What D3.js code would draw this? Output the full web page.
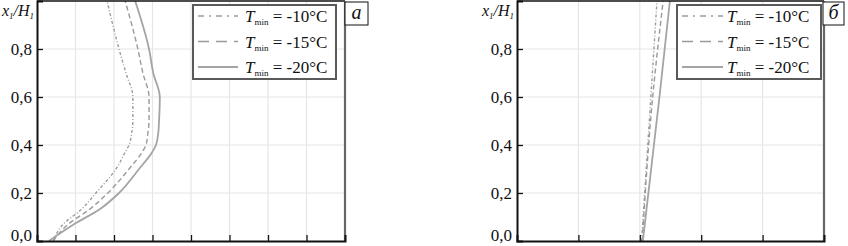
<!DOCTYPE html>
<html>
<head>
<meta charset="utf-8">
<style>
    body { margin: 0; background: #fff; }
    svg { display: block; }
    text { font-family: "Liberation Serif", Tinos, "DejaVu Serif", serif; fill: #111; }
    .grid line { stroke: #e6e6e6; stroke-width: 1.2; }
    .curve { fill: none; }
</style>
</head>
<body>
<div id="target"></div>
<script src="https://cdnjs.cloudflare.com/ajax/libs/d3/7.8.5/d3.min.js"></script>
<script>
    // shared y ticks
    var yTicks = [0, 0.2, 0.4, 0.6, 0.8];
    var yTickLabels = ['0,0', '0,2', '0,4', '0,6', '0,8'];

    // panel а
    var yA = [0, 0.07, 0.13, 0.2, 0.3, 0.37, 0.4, 0.45, 0.5, 0.6, 0.7, 0.8, 1.0];
    var xA10 = [0.42, 0.68, 1.14, 1.53, 2.05, 2.29, 2.39, 2.46, 2.49, 2.49, 2.31, 2.13, 1.82];
    var xA15 = [0.42, 0.81, 1.35, 1.84, 2.39, 2.73, 2.83, 2.88, 2.91, 2.91, 2.75, 2.62, 2.29];
    var xA20 = [0.31, 0.96, 1.61, 2.13, 2.65, 2.99, 3.09, 3.15, 3.17, 3.19, 3.02, 2.91, 2.55];
    var xTicksA = [0, 1, 2, 3, 4, 5, 6, 7, 8];

    // panel б
    var yB = [0, 0.6, 1.0];
    var xB10 = [2.03, 2.18, 2.28];
    var xB15 = [2.04, 2.21, 2.38];
    var xB20 = [2.05, 2.32, 2.49];
    var xTicksB = [0, 1, 2, 3, 4, 5];

    var seriesNames = ['-10°C', '-15°C', '-20°C'];
    var dashes = ['3,2,1,2', '5,3', null];
    var colors = ['#9c9c9c', '#9a9a9a', '#a4a4a4'];
    var widths = [1.4, 1.4, 1.8];

    var W = 848, H = 246;
    var svg = d3.select('#target').append('svg')
        .attr('width', W).attr('height', H);

    function panel(opt) {
        var x = d3.scaleLinear().domain([opt.xTicks[0], opt.xTicks[opt.xTicks.length - 1]])
            .range([opt.left, opt.right]);
        var y = d3.scaleLinear().domain([0, 1]).range([241, 1]);
        var g = svg.append('g');

        //grid
        var grid = g.append('g').attr('class', 'grid');
        grid.selectAll('line.v').data(opt.xTicks.slice(1, -1)).enter().append('line')
            .attr('x1', x).attr('x2', x).attr('y1', y(1)).attr('y2', y(0));
        grid.selectAll('line.h').data(yTicks.slice(1)).enter().append('line')
            .attr('x1', x.range()[0]).attr('x2', x.range()[1])
            .attr('y1', y).attr('y2', y);

        //curves
        var line = d3.line()
            .x(function (d) { return x(d[0]); })
            .y(function (d) { return y(d[1]); })
            .curve(d3.curveMonotoneY);
        opt.series.forEach(function (xs, i) {
            g.append('path').attr('class', 'curve')
                .attr('d', line(xs.map(function (v, k) { return [v, opt.ys[k]]; })))
                .attr('stroke', colors[i])
                .attr('stroke-width', widths[i])
                .attr('stroke-dasharray', dashes[i]);
        });

        //frame: top and right
        g.append('line').attr('x1', x.range()[0]).attr('x2', x.range()[1])
            .attr('y1', y(1)).attr('y2', y(1)).attr('stroke', '#111').attr('stroke-width', 1.5);
        g.append('line').attr('x1', x.range()[1]).attr('x2', x.range()[1])
            .attr('y1', y(1)).attr('y2', y(0)).attr('stroke', '#666').attr('stroke-width', 2.2);

        //axes with inward ticks
        var ax = d3.axisBottom(x).tickValues(opt.xTicks.slice(1, -1)).tickSize(-6).tickFormat('');
        g.append('g').attr('transform', 'translate(0,' + y(0) + ')').call(ax)
            .call(function (s) {
                s.select('.domain').attr('stroke', '#111').attr('stroke-width', 2);
                s.selectAll('.tick line').attr('stroke', '#111').attr('stroke-width', 1.3);
            });
        var ay = d3.axisLeft(y).tickValues(yTicks.slice(1)).tickSize(-6).tickFormat('');
        g.append('g').attr('transform', 'translate(' + x.range()[0] + ',0)').call(ay)
            .call(function (s) {
                s.select('.domain').attr('stroke', '#111').attr('stroke-width', 2);
                s.selectAll('.tick line').attr('stroke', '#111').attr('stroke-width', 1.3);
            });

        //y tick labels
        g.selectAll('text.yl').data(yTicks).enter().append('text')
            .attr('x', x.range()[0] - 5)
            .attr('y', function (d) { return Math.min(y(d), 235); })
            .attr('dy', '0.35em')
            .attr('text-anchor', 'end')
            .attr('font-size', 17)
            .text(function (d, i) { return yTickLabels[i]; });

        //y axis title x1/H1
        var t = g.append('text').attr('x', x.range()[0] - 3).attr('y', 16)
            .attr('text-anchor', 'end').attr('font-size', 16).attr('font-style', 'italic');
        t.append('tspan').text('x');
        t.append('tspan').attr('font-size', 9).attr('dy', 3).text('1');
        t.append('tspan').attr('dy', -3).text('/H');
        t.append('tspan').attr('font-size', 9).attr('dy', 3).text('1');

        //legend
        var lg = g.append('g').attr('transform', 'translate(' + opt.legX + ',' + opt.legY + ')');
        lg.append('rect').attr('width', opt.legW).attr('height', 74)
            .attr('fill', '#fff').attr('stroke', '#5a5a5a').attr('stroke-width', 2);
        seriesNames.forEach(function (name, i) {
            var ry = 11 + i * 25.5;
            lg.append('line').attr('x1', 5).attr('x2', opt.legLine)
                .attr('y1', ry).attr('y2', ry)
                .attr('stroke', colors[i]).attr('stroke-width', widths[i])
                .attr('stroke-dasharray', i === 0 ? '6,5,2,5' : (i === 1 ? '11,7' : null));
            var tx = lg.append('text').attr('x', opt.legText).attr('y', ry + 6).attr('font-size', 17);
            tx.append('tspan').attr('font-style', 'italic').text('T');
            tx.append('tspan').attr('font-size', 9).attr('dy', 3).text('min');
            tx.append('tspan').attr('dy', -3).text(' = ' + name);
        });

        //panel letter
        var lb = g.append('g').attr('transform', 'translate(' + opt.tagX + ',2)');
        lb.append('rect').attr('width', opt.tagW).attr('height', 23)
            .attr('fill', '#fff').attr('stroke', '#111').attr('stroke-width', 1);
        lb.append('text').attr('x', opt.tagW / 2).attr('y', 17).attr('text-anchor', 'middle')
            .attr('font-size', 20).attr('font-style', 'italic').text(opt.tag);
    }

    panel({
        left: 37, right: 345, xTicks: xTicksA, ys: yA, series: [xA10, xA15, xA20],
        legX: 193, legY: 5, legW: 143, legLine: 45, legText: 52,
        tagX: 345, tagW: 23, tag: 'а'
    });
    panel({
        left: 517, right: 824, xTicks: xTicksB, ys: yB, series: [xB10, xB15, xB20],
        legX: 677, legY: 5, legW: 144, legLine: 46, legText: 50,
        tagX: 823, tagW: 21, tag: 'б'
    });
</script>
</body>
</html>
